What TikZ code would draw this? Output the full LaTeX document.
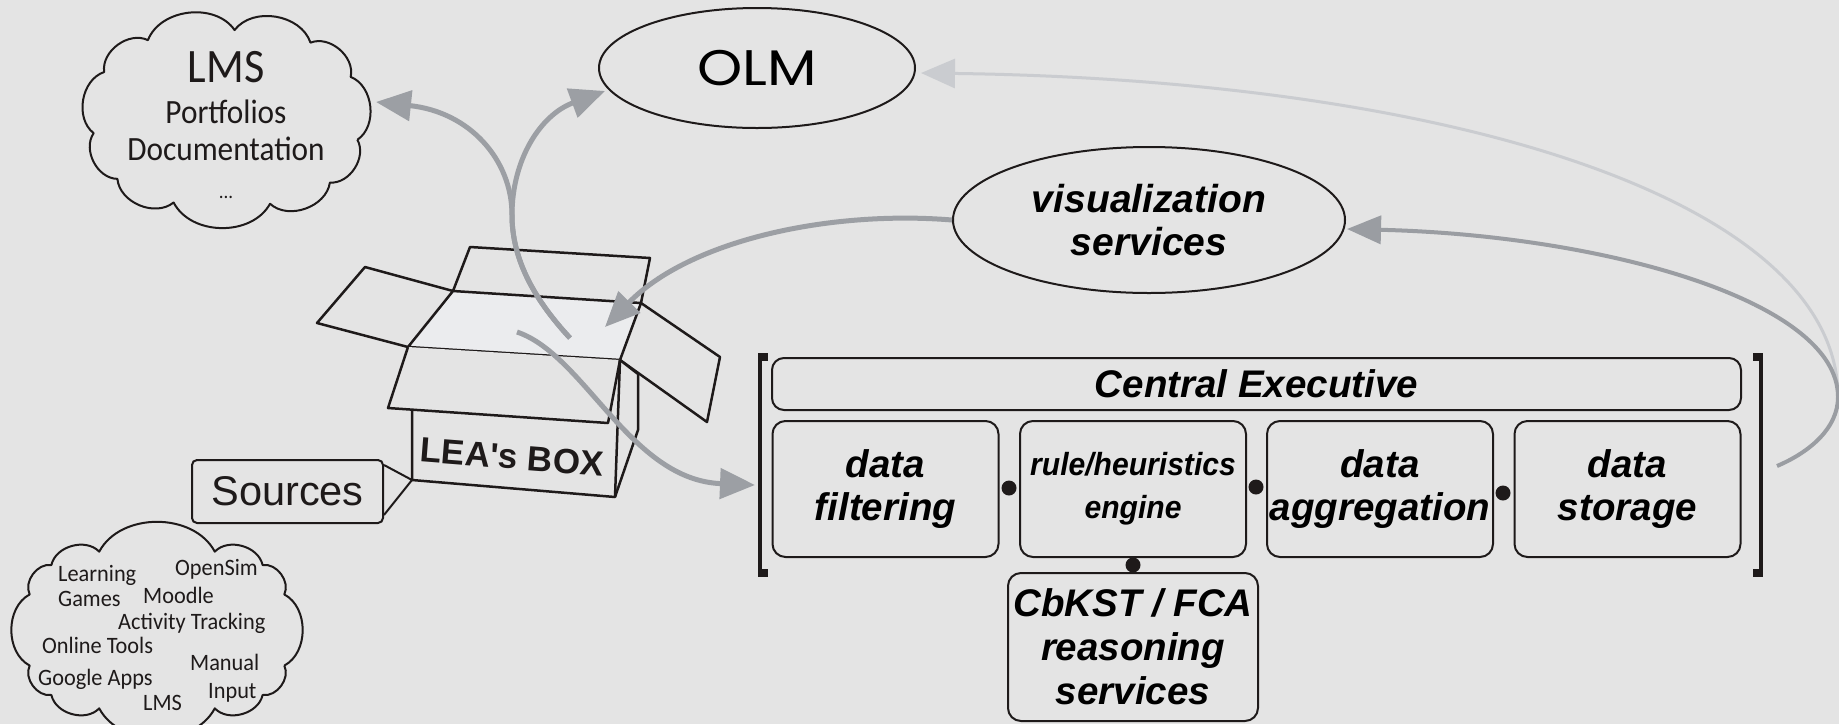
\documentclass[tikz,border=0pt]{standalone}
\usepackage{fontspec}
\setmainfont{Liberation Sans}
\newfontfamily\olmfont[FakeStretch=1.15]{Poppins}
\newfontfamily\cloudfont[FakeStretch=0.95]{Carlito}
\newfontfamily\cloudfontn[FakeStretch=0.92]{Carlito}
\newfontfamily\narrowfont[FakeStretch=0.94]{Liberation Sans}
\usetikzlibrary{shapes.geometric,arrows.meta,calc}
\definecolor{bg}{HTML}{E4E4E4}
\definecolor{inside}{HTML}{EBECEE}
\definecolor{arrowgray}{HTML}{9C9FA4}
\definecolor{midgray}{HTML}{9A9DA2}
\definecolor{lightgray2}{HTML}{CACCD0}
\definecolor{ink}{HTML}{1E1A1A}
\begin{document}
\begin{tikzpicture}[x=1pt,y=-1pt,
  modbox/.style={draw=ink, line width=2pt, rounded corners=13pt, minimum width=226pt,
    minimum height=136pt, inner sep=0pt, align=center,
    font=\fontsize{38.5}{43}\selectfont\bfseries\itshape},
  ellnode/.style={ellipse, draw=ink, line width=2pt, inner sep=0pt, align=center},
  cloudline/.style={draw=ink, line width=2pt, fill=bg, line join=round},
  boxline/.style={draw=ink, line width=2.5pt, line join=round},
  dotnode/.style={circle, fill=ink, inner sep=0pt, minimum size=15pt},
  srctext/.style={anchor=base west, inner sep=0pt, font=\cloudfont\fontsize{23.5}{24}\selectfont, text=ink},
  lmstext/.style={anchor=base, inner sep=0pt, text=ink},
  garrow/.style={draw=arrowgray, line width=5pt, -{Triangle[length=35pt,width=30pt]}},
  marrow/.style={draw=midgray, line width=4pt, -{Triangle[length=34pt,width=28pt]}},
  larrow/.style={draw=lightgray2, line width=3pt, -{Triangle[length=34pt,width=29pt]}},
  bracketbar/.style={fill=ink}
]
\useasboundingbox (0,0) rectangle (1839,724);
\fill[bg] (0,0) rectangle (1839,724);

% ---------- LMS cloud (puffs on a rounded oval) ----------
\foreach \i in {0,...,11} {
  \pgfmathsetmacro\t{\i*360/11+10}
  \pgfmathsetmacro\cx{226+133*(cos(\t)/abs(cos(\t)))*pow(abs(cos(\t)),0.8)}
  \pgfmathsetmacro\cy{118+88*(sin(\t)/abs(sin(\t)))*pow(abs(sin(\t)),0.8)}
  \coordinate (lc\i) at (\cx,\cy);
}
\draw[cloudline] (lc0) to[bend left=62] (lc1) to[bend left=62] (lc2) to[bend left=62] (lc3)
  to[bend left=62] (lc4) to[bend left=62] (lc5) to[bend left=62] (lc6) to[bend left=62] (lc7)
  to[bend left=62] (lc8) to[bend left=62] (lc9) to[bend left=62] (lc10) to[bend left=62] (lc11);
\node[lmstext, font=\cloudfontn\fontsize{48}{48}\selectfont] (tlms) at (226,82) {LMS};
\node[lmstext, font=\cloudfontn\fontsize{34}{34}\selectfont] (tport) at (226,123) {Portfolios};
\node[lmstext, font=\cloudfontn\fontsize{34}{34}\selectfont] (tdoc) at (226,160) {Documentation};
\node[lmstext, font=\cloudfont\fontsize{20}{20}\selectfont] (tdots) at (226,198) {...};

% ---------- Sources cloud ----------
\foreach \i in {0,...,12} {
  \pgfmathsetmacro\t{\i*30+15}
  \pgfmathsetmacro\cx{157+130*(cos(\t)/abs(cos(\t)))*pow(abs(cos(\t)),0.6)}
  \pgfmathsetmacro\cy{630+80*(sin(\t)/abs(sin(\t)))*pow(abs(sin(\t)),0.6)}
  \coordinate (sc\i) at (\cx,\cy);
}
\draw[cloudline] (sc0) to[bend left=62] (sc1) to[bend left=62] (sc2) to[bend left=62] (sc3)
  to[bend left=62] (sc4) to[bend left=62] (sc5) to[bend left=62] (sc6) to[bend left=62] (sc7)
  to[bend left=62] (sc8) to[bend left=62] (sc9) to[bend left=62] (sc10) to[bend left=62] (sc11)
  to[bend left=62] (sc12);
\node[srctext] (s1) at (58,581.5) {Learning};
\node[srctext] (s2) at (175,575) {OpenSim};
\node[srctext] (s3) at (58,606.5) {Games};
\node[srctext] (s4) at (143,603) {Moodle};
\node[srctext] (s5) at (118,629) {Activity Tracking};
\node[srctext] (s6) at (42,653) {Online Tools};
\node[srctext] (s7) at (190,670) {Manual};
\node[srctext] (s8) at (38,685) {Google Apps};
\node[srctext] (s9) at (208,698) {Input};
\node[srctext] (s10) at (143,710) {LMS};

% ---------- ellipses ----------
\node[ellnode, minimum width=316pt, minimum height=120pt,
  font=\olmfont\fontsize{50}{50}\selectfont] (olm) at (757,68) {OLM};
\node[ellnode, minimum width=392pt, minimum height=146pt,
  font=\fontsize{39}{43}\selectfont\bfseries\itshape] (vis) at (1149,220) {visualization\\services};

% ---------- executive ----------
\fill[bracketbar] (758,353) rectangle (762,577);
\fill[bracketbar] (758,353) rectangle (768,361);
\fill[bracketbar] (758,569) rectangle (768,577);
\fill[bracketbar] (1759,353) rectangle (1763,577);
\fill[bracketbar] (1753,353) rectangle (1763,361);
\fill[bracketbar] (1753,569) rectangle (1763,577);

\node[modbox, minimum width=969pt, minimum height=52pt, rounded corners=12pt] (central) at (1256.5,384) {Central Executive};
\node[modbox] (filter) at (885.5,489) {data\\filtering};
\node[modbox, font=\narrowfont\fontsize{32}{43}\selectfont\bfseries\itshape] (rule) at (1133,489) {rule/heuristics\\engine};
\node[modbox] (aggr) at (1380,489) {data\\aggregation};
\node[modbox] (stor) at (1627.5,489) {data\\storage};
\node[modbox, minimum width=250pt, minimum height=148pt, font=\fontsize{38.5}{44}\selectfont\bfseries\itshape] (cbkst) at (1133,647) {CbKST / FCA\\reasoning\\services};

\node[dotnode] (d1) at (1009,488) {};
\node[dotnode] (d2) at (1256,487) {};
\node[dotnode] (d3) at (1503,493) {};
\node[dotnode] (d4) at (1133,565) {};

% ---------- LEA's box ----------
\coordinate (A) at (453,291);
\coordinate (B) at (641,303);
\coordinate (C) at (620,360);
\coordinate (D) at (408,347);
\draw[boxline, fill=bg] (A) -- (470,247) -- (650,258) -- (B);
\draw[boxline, fill=bg] (A) -- (365,267) -- (317,323) -- (D);
\draw[boxline, fill=bg] (B) -- (720,357) -- (707,422) -- (C);
\draw[boxline, fill=bg] (412,408) -- (412,480) -- (615,497) -- (638,430) -- (638,374) -- (C) -- cycle;
\draw[boxline, fill=inside] (A) -- (B) -- (C) -- (D) -- cycle;
\draw[boxline, fill=bg] (D) -- (388,408) -- (608,423) -- (C);
\draw[boxline] (615,497) -- (C);
\node[rotate=-4.5, inner sep=0pt, text=ink, font=\fontsize{35}{35}\selectfont\bfseries] (lea) at (512,457) {LEA\textquotesingle s BOX};
\coordinate (fbl) at (412,480);

% ---------- Sources ----------
\node[draw=ink, line width=2pt, rounded corners=5pt, minimum width=191pt, minimum height=63pt,
  inner sep=0pt, text=ink, font=\fontsize{41.5}{42}\selectfont] (src) at (287.5,491.5) {Sources};
\draw[boxline, line width=2pt] ($(src.north east)+(0,6)$) -- (fbl) -- ($(src.south east)+(0,-9)$);

% ---------- arrows ----------
\coordinate (boxstart) at (570,338);
\coordinate (split) at (512,215);
\coordinate (lmstip) at (376,102);
\coordinate (olmtip) at (605,91);
\coordinate (boxtip) at (605,327);
\coordinate (boxout) at (517,332);
\coordinate (filtip) at (755,485);
\coordinate (storout) at (1777,466);
\coordinate (rp) at (1838,397);
\coordinate (vistip) at (1347,229);
\coordinate (olmtip2) at (921,73);

\draw[garrow] (boxstart) .. controls (530,295) and (512,255) .. (split) .. controls (512,160) and (470,112) .. (lmstip);
\draw[garrow] (boxstart) .. controls (530,295) and (512,255) .. (split) .. controls (512,160) and (540,115) .. (olmtip);
\draw[garrow] (vis.west) .. controls (830,210) and (690,240) .. (boxtip);
\draw[garrow] (boxout) .. controls (585,355) and (630,480) .. (filtip);
\draw[larrow] (rp) .. controls (1838,200) and (1450,80) .. (olmtip2);
\draw[marrow] (storout) .. controls (1810,452) and (1838,428) .. (rp) .. controls (1838,300) and (1600,235) .. (vistip);
\end{tikzpicture}
\end{document}
